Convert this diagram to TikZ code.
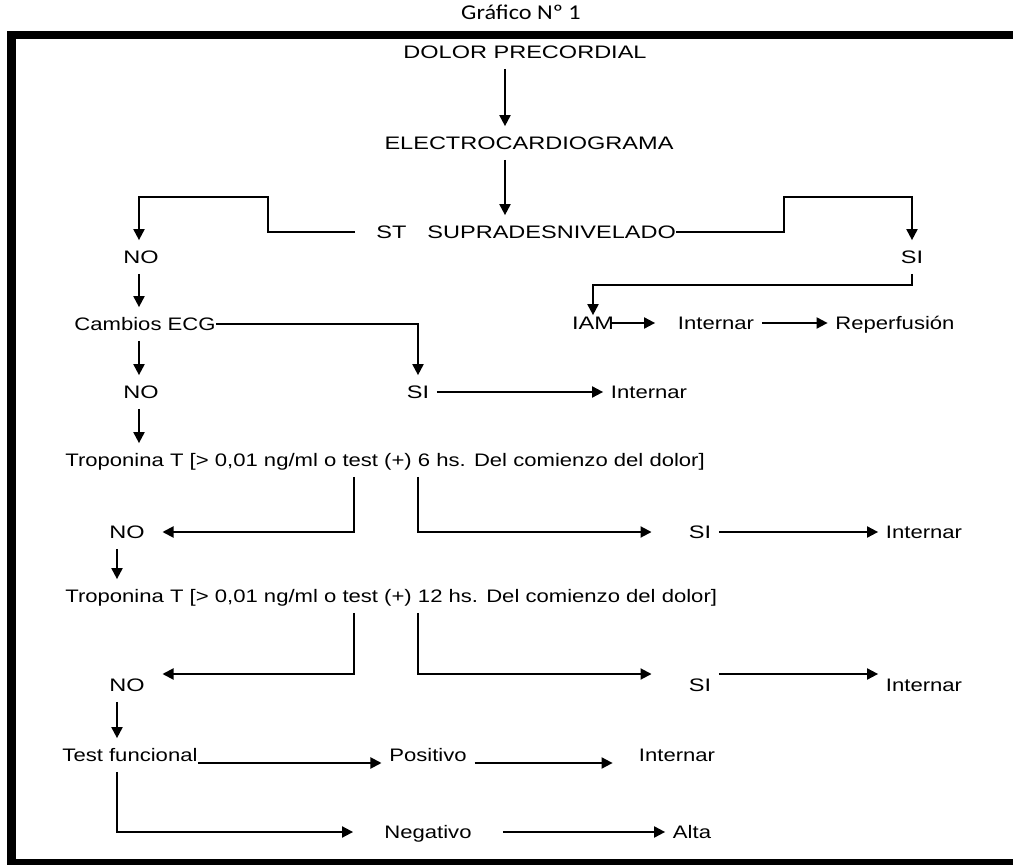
\documentclass[tikz,border=0pt]{standalone}
\usepackage{fontspec}
\newfontfamily\flowfont[FakeStretch=1.22]{Liberation Sans}
\newfontfamily\capsfont[FakeStretch=1.3]{Liberation Sans}
\newfontfamily\titlefont[FakeStretch=1.15]{Carlito}
\usetikzlibrary{arrows.meta, positioning, calc}

\begin{document}
\begin{tikzpicture}[
			lbl/.style={font=\flowfont\fontsize{10.3}{12}\selectfont,
				text height=7.4pt, text depth=0pt,
				inner xsep=0.15cm, inner ysep=0.2cm},
			capslbl/.style={lbl, font=\capsfont\fontsize{10.3}{12}\selectfont},
			arr/.style={-{Triangle[length=0.22cm, width=0.22cm]}, line width=1.1pt}
			]
			\useasboundingbox (0,0) rectangle (20.26,17.28);
			\draw[line width=0.17cm] (0.23,16.58) rectangle (20.5,0.02);

			\node[font=\titlefont\fontsize{12}{14}\selectfont] (titulo) at (10.42,17.04) {Gráfico Nº 1};
			\node[capslbl] (dolor)   at (10.50,16.24) {DOLOR PRECORDIAL};
			\node[capslbl] (ecg)     at (10.58,14.42) {ELECTROCARDIOGRAMA};
			\node[capslbl, anchor=west] (st) at (7.37,12.64) {ST\hspace{0.42cm}SUPRADESNIVELADO};
			\node[capslbl] (no1)     at (2.82,12.14) {NO};
			\node[capslbl] (si1)     at (18.24,12.14) {SI};
			\node[lbl]     (cambios) at (2.90,10.80) {Cambios ECG};
			\node[capslbl] (iam)     at (11.86,10.82) {IAM};
			\node[lbl]     (int1)    at (14.32,10.82) {Internar};
			\node[lbl]     (reperf)  at (17.90,10.82) {Reperfusión};
			\node[capslbl] (no2)     at (2.82,9.44) {NO};
			\node[capslbl] (si2)     at (8.36,9.44) {SI};
			\node[lbl]     (int2)    at (12.98,9.44) {Internar};
			\node[lbl, anchor=west] (trop1) at (1.15,8.08) {Troponina T [> 0,01 ng/ml o test (+) 6 hs. Del comienzo del dolor]};
			\node[capslbl] (no3)     at (2.54,6.64) {NO};
			\node[capslbl] (si3)     at (14.00,6.64) {SI};
			\node[lbl]     (int3)    at (18.48,6.64) {Internar};
			\node[lbl, anchor=west] (trop2) at (1.15,5.36) {Troponina T [> 0,01 ng/ml o test (+) 12 hs. Del comienzo del dolor]};
			\node[capslbl] (no4)     at (2.54,3.58) {NO};
			\node[capslbl] (si4)     at (14.00,3.58) {SI};
			\node[lbl]     (int4)    at (18.48,3.58) {Internar};
			\node[lbl]     (tf)      at (2.60,2.18) {Test funcional};
			\node[lbl]     (pos)     at (8.56,2.18) {Positivo};
			\node[lbl]     (int5)    at (13.54,2.18) {Internar};
			\node[lbl]     (neg)     at (8.56,0.64) {Negativo};
			\node[lbl]     (alta)    at (13.84,0.64) {Alta};

			\coordinate (eje)   at (10.10,0);
			\coordinate (ucol)  at (2.78,0);
			\coordinate (lcol)  at (2.34,0);
			\coordinate (corte) at (7.08,0);

			\draw[arr] (dolor.south -| eje) -- (ecg.north -| eje);
			\draw[arr] (ecg.south -| eje)   -- (st.north -| eje);
			\draw[arr] ([xshift=-2.7mm]st.west) -- ++(-1.74,0) -- ++(0,0.7) -| (no1.north -| ucol);
			\draw[arr] ([xshift=-1.5mm]st.east) -- ++(2.16,0) -- ++(0,0.7) -| (si1.north);
			\draw[arr] (no1.south -| ucol) -- (cambios.north -| ucol);
			\draw[arr, shorten >=-0.18cm] (si1.south) -- ++(0,-0.23) -| (iam.north);
			\draw[arr, shorten <=-0.22cm, shorten >=0.3cm] (iam.east) -- (int1.west);
			\draw[arr] (int1.east) -- (reperf.west);
			\draw[arr] ([xshift=-1.5mm]cambios.east) -| (si2.north);
			\draw[arr] (cambios.south -| ucol) -- (no2.north -| ucol);
			\draw[arr] (si2.east) -- (int2.west);
			\draw[arr] (no2.south -| ucol) -- (trop1.north -| ucol);
			\draw[arr, shorten >=0.2cm]  (trop1.south -| corte) |- (no3.east);
			\draw[arr, shorten >=0.59cm] (trop1.south -| si2) |- (si3.west);
			\draw[arr] (si3.east) -- (int3.west);
			\draw[arr] (no3.south -| lcol) -- (trop2.north -| lcol);
			\draw[arr, shorten >=0.2cm]  (trop2.south -| corte) |- ([yshift=2.2mm]no4.east);
			\draw[arr, shorten >=0.59cm] (trop2.south -| si2) |- ([yshift=2.2mm]si4.west);
			\draw[arr] ([yshift=2.2mm]si4.east) -- ([yshift=2.2mm]int4.west);
			\draw[arr] (no4.south -| lcol) -- (tf.north -| lcol);
			\draw[arr] ([xshift=-1.5mm, yshift=-1.6mm]tf.east) -- ([yshift=-1.6mm]pos.west);
			\draw[arr, shorten >=0.37cm] ([yshift=-1.6mm]pos.east) -- ([yshift=-1.6mm]int5.west);
			\draw[arr, shorten >=0.47cm] (tf.south -| lcol) |- (neg.west);
			\draw[arr, shorten <=0.47cm] (neg.east) -- (alta.west);
		\end{tikzpicture}
\end{document}
